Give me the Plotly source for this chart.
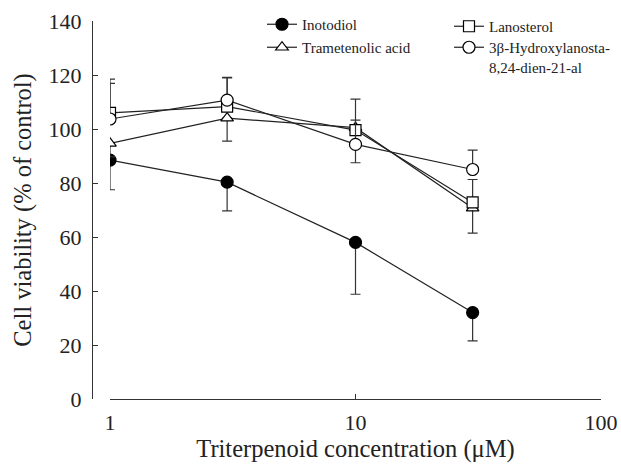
import plotly.graph_objects as go

conc = [1, 3, 10, 30]

inotodiol = [88.5, 80.3, 58.0, 32.0]
inotodiol_err_minus = [11.0, 10.6, 19.2, 10.5]

trametenolic = [94.7, 104.0, 100.5, 70.7]
trametenolic_err_minus = [5.0, 8.5, 13.0, 9.3]

lanosterol = [106.0, 108.3, 99.6, 72.8]
lanosterol_err_plus = [12.5, 10.8, 11.5, 8.5]

hydroxy = [103.7, 110.7, 94.3, 85.0]
hydroxy_err_plus = [13.2, 8.2, 9.0, 7.2]

x_ticks = [1, 10, 100]
x_tick_labels = ["1", "10", "100"]
y_ticks = [0, 20, 40, 60, 80, 100, 120, 140]

FONT = "Liberation Serif"
LINE = "#222222"
ERR = "#333333"

fig = go.Figure()

def add(name, y, plus, minus, filled, symbol, legend, size):
    fig.add_trace(go.Scatter(
        x=conc, y=y, name=name, mode="lines+markers",
        line=dict(color=LINE, width=1.2),
        marker=dict(symbol=symbol, size=size,
                    color="black" if filled else "white",
                    line=dict(color="black", width=1.2)),
        error_y=dict(type="data", symmetric=False,
                     array=plus if plus is not None else [0] * len(y),
                     arrayminus=minus if minus is not None else [0] * len(y),
                     color=ERR, thickness=1.2, width=5),
        legend=legend,
    ))

add("Inotodiol", inotodiol, None, inotodiol_err_minus, True, "circle", "legend", 12)
add("Trametenolic acid", trametenolic, None, trametenolic_err_minus, False, "triangle-up", "legend2", 11)
add("Lanosterol", lanosterol, lanosterol_err_plus, None, False, "square", "legend3", 11)
add("3β-Hydroxylanosta-<br>8,24-dien-21-al", hydroxy, hydroxy_err_plus, None, False, "circle", "legend4", 12)

W, H = 621, 473
ml, mr, mt, mb = 92, 20, 21, 74
pw = W - ml - mr
ph = H - mt - mb

def leg(xpx, toppx):
    return dict(x=(xpx - ml) / pw, y=1 + (mt - toppx) / ph, xanchor="left", yanchor="top",
                font=dict(size=15, family=FONT, color="#222222"),
                bgcolor="rgba(0,0,0,0)", itemwidth=30, valign="top")

fig.update_layout(
    width=W, height=H,
    margin=dict(l=ml, r=mr, t=mt, b=mb, autoexpand=False),
    paper_bgcolor="white", plot_bgcolor="white",
    font=dict(family=FONT, color="#222222"),
    showlegend=True,
    legend=leg(262, 8),
    legend2=leg(262, 31),
    legend3=leg(449, 10),
    legend4=leg(449, 31),
    xaxis=dict(type="log", range=[0, 2], domain=[18 / pw, 1],
               tickvals=x_ticks, ticktext=x_tick_labels,
               ticks="inside", ticklen=5, tickwidth=1.2, tickcolor="#333333",
               showline=True, linecolor="#333333", linewidth=1.2,
               showgrid=False, zeroline=False, automargin=False,
               tickfont=dict(size=22, family=FONT), ticklabelstandoff=3,
               title=dict(text="Triterpenoid concentration (μM)",
                          font=dict(size=24.5, family=FONT), standoff=6),
               anchor="y"),
    yaxis=dict(range=[0, 140], tickvals=y_ticks,
               ticks="inside", ticklen=5, tickwidth=1.2, tickcolor="#333333",
               showline=True, linecolor="#333333", linewidth=1.2,
               showgrid=False, zeroline=False, automargin=False,
               tickfont=dict(size=22, family=FONT), ticklabelstandoff=6,
               title=dict(text="Cell viability (% of control)",
                          font=dict(size=24.5, family=FONT), standoff=8),
               anchor="free", position=0),
)

fig.write_html("out.html",
               config={"displayModeBar": False},
               post_script="document.body.style.margin='0';document.body.style.overflow='hidden';")
